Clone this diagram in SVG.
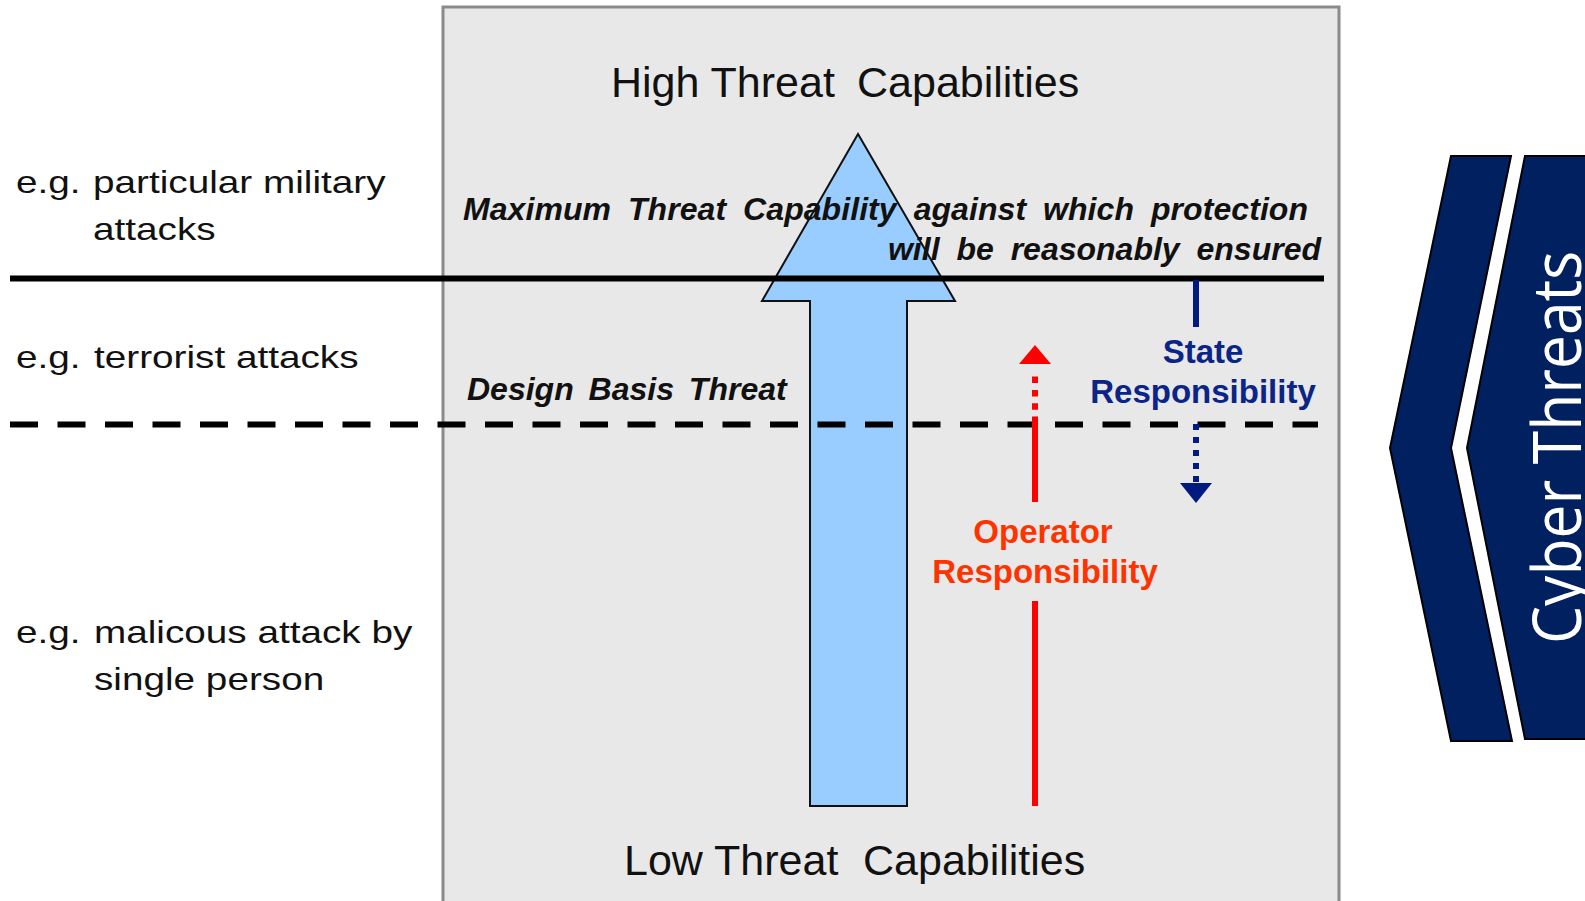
<svg xmlns="http://www.w3.org/2000/svg" width="1585" height="901" viewBox="0 0 1585 901">
<defs>
<style>
.lbl{font-family:"Liberation Sans",Arial,sans-serif;font-size:32px;fill:#111}
.cap{font-family:"Liberation Sans",Arial,sans-serif;font-size:43px;fill:#111}
.bi{font-family:"Liberation Sans",Arial,sans-serif;font-size:32px;font-weight:bold;font-style:italic;fill:#111;word-spacing:8px}
.resp{font-family:"Liberation Sans",Arial,sans-serif;font-size:33px;font-weight:bold;text-anchor:middle}
.chev{fill:#002060;stroke:#000;stroke-width:2}
</style>
</defs>
<rect width="1585" height="901" fill="#fff"/>
<g id="panel"><rect x="443" y="7" width="896" height="900" fill="#e8e8e8" stroke="#8a8a8a" stroke-width="3"/></g>
<g id="capability-arrow"><path d="M858,134 L955,301 L907,301 L907,806 L810,806 L810,301 L762,301 Z" fill="#99ccff" stroke="#111" stroke-width="2"/></g>
<g id="label-high"><text class="cap" y="97"><tspan x="611">High Threat</tspan><tspan x="857">Capabilities</tspan></text></g>
<g id="label-low"><text class="cap" y="875"><tspan x="624">Low Threat</tspan><tspan x="863">Capabilities</tspan></text></g>
<g id="label-max">
<text class="bi" x="463" y="220" textLength="845" lengthAdjust="spacing">Maximum Threat Capability against which protection</text>
<text class="bi" x="1321" y="260" text-anchor="end">will be reasonably ensured</text>
</g>
<g id="label-dbt"><text class="bi" x="467" y="400" style="word-spacing:6px">Design Basis Threat</text></g>
<g id="left-labels" transform="scale(1.21,1)">
<text class="lbl" y="193"><tspan x="13.2">e.g.</tspan><tspan x="76.9">particular military</tspan><tspan x="76.9" y="240">attacks</tspan></text>
<text class="lbl" y="368"><tspan x="13.2">e.g.</tspan><tspan x="77.7">terrorist attacks</tspan></text>
<text class="lbl" y="643"><tspan x="13.2">e.g.</tspan><tspan x="77.7">malicous attack by</tspan><tspan x="77.7" y="690">single person</tspan></text>
</g>
<g id="connectors">
<line x1="10" y1="278.5" x2="1324" y2="278.5" stroke="#000" stroke-width="6"/>
<line x1="10" y1="424.5" x2="1318" y2="424.5" stroke="#000" stroke-width="6" stroke-dasharray="28 19.5"/>
<line x1="1035" y1="806" x2="1035" y2="601" stroke="#f00" stroke-width="6"/>
<line x1="1035" y1="502" x2="1035" y2="423" stroke="#f00" stroke-width="6"/>
<line x1="1035" y1="423" x2="1035" y2="376" stroke="#f00" stroke-width="6" stroke-dasharray="6.5 6.8"/>
<polygon points="1035,345 1051,364 1019,364" fill="#f00"/>
<line x1="1196" y1="280" x2="1196" y2="327" stroke="#001a80" stroke-width="6"/>
<line x1="1196" y1="424" x2="1196" y2="483" stroke="#001a80" stroke-width="6" stroke-dasharray="6 7"/>
<polygon points="1196,503 1212,483 1180,483" fill="#001a80"/>
</g>
<g id="state-resp"><text class="resp" fill="#0a2488"><tspan x="1203" y="363">State</tspan><tspan x="1203" y="403">Responsibility</tspan></text></g>
<g id="operator-resp"><text class="resp" fill="#ff3300"><tspan x="1043" y="543">Operator</tspan><tspan x="1045" y="583">Responsibility</tspan></text></g>
<g id="cyber-threats">
<polygon class="chev" points="1451,156 1511,156 1451,448 1512,741 1451,741 1390,448"/>
<polygon class="chev" points="1525,156 1592,156 1592,739 1525,739 1467,448"/>
<text transform="translate(1581,644) rotate(-90) scale(1,1.12)" font-family="'Open Sans','Noto Sans',sans-serif" font-size="60" fill="#fff" textLength="393" lengthAdjust="spacingAndGlyphs">Cyber Threats</text>
</g>
</svg>
